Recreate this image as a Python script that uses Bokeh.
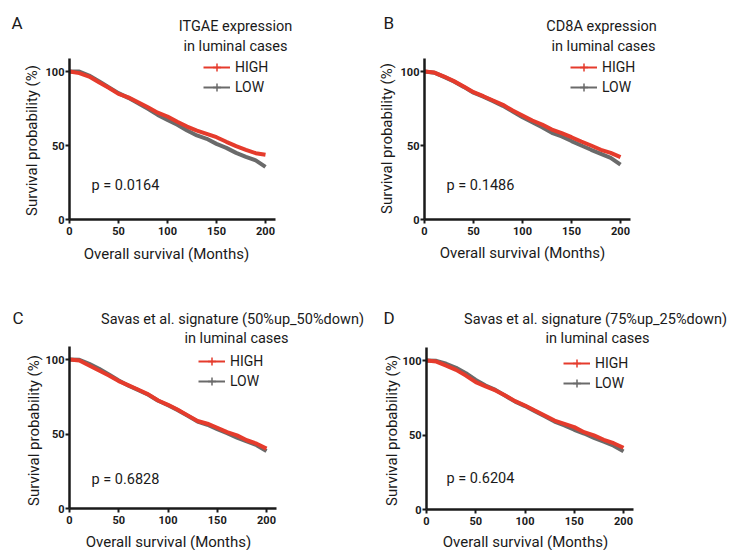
import numpy as np
from bokeh.plotting import figure
from bokeh.models import Range1d, FixedTicker, Label, Legend, LegendItem, ColumnDataSource
from bokeh.layouts import row, column
from bokeh.embed import file_html
from bokeh.resources import INLINE

# ---------------- data ----------------
months = [0, 10, 20, 30, 40, 50, 60, 70, 80, 90, 100,
          110, 120, 130, 140, 150, 160, 170, 180, 190, 200]
x_ticks = [0, 50, 100, 150, 200]
y_ticks = [0, 50, 100]
group_labels = ["HIGH", "LOW"]

a_high = [100, 98.9, 96.6, 92.8, 89.0, 84.9, 82.5, 79.2, 75.8, 72.2, 69.6,
          66.0, 62.8, 60.1, 57.9, 55.6, 52.5, 49.6, 47.1, 44.8, 43.7]
a_low = [100, 100, 97.3, 93.5, 89.4, 85.4, 82.2, 78.6, 74.8, 70.7, 67.3,
         64.0, 60.1, 56.8, 54.5, 51.1, 48.4, 45.0, 42.3, 40.0, 35.5]
b_high = [100, 99.3, 96.6, 93.5, 89.9, 86.0, 83.3, 80.4, 77.5, 73.6, 70.3,
          66.9, 64.2, 60.8, 58.3, 55.6, 52.7, 50.0, 47.1, 45.0, 42.1]
b_low = [100, 99.2, 96.4, 93.2, 89.6, 85.7, 83.0, 80.0, 76.8, 73.0, 69.1,
         65.8, 62.4, 58.6, 56.1, 53.0, 50.0, 47.1, 44.4, 41.7, 37.0]
c_high = [100, 99.3, 96.0, 92.6, 89.3, 85.5, 82.6, 79.7, 76.6, 72.5, 69.6,
          66.3, 62.5, 58.7, 56.9, 54.2, 51.3, 49.1, 45.8, 43.5, 40.2]
c_low = [100, 99.8, 97.1, 93.8, 90.0, 85.9, 82.4, 79.4, 76.3, 72.3, 69.3,
         66.0, 62.2, 58.4, 56.2, 53.2, 50.5, 47.6, 45.0, 42.5, 38.5]
d_high = [100, 99.3, 96.6, 93.7, 89.9, 85.5, 82.6, 79.9, 76.5, 72.7, 69.8,
          66.4, 63.1, 59.7, 57.5, 55.3, 51.9, 49.7, 46.8, 44.5, 41.4]
d_low = [100, 99.8, 97.8, 95.1, 91.5, 87.0, 83.2, 80.3, 76.3, 72.4, 69.4,
         66.0, 62.6, 59.0, 56.5, 53.5, 51.0, 48.1, 45.5, 42.8, 39.0]

letters = ["A", "B", "C", "D"]
titles = [("ITGAE expression", "in luminal cases"),
          ("CD8A expression", "in luminal cases"),
          ("Savas et al. signature (50%up_50%down)", "in luminal cases"),
          ("Savas et al. signature (75%up_25%down)", "in luminal cases")]
p_values = ["p = 0.0164", "p = 0.1486", "p = 0.6828", "p = 0.6204"]
x_title = "Overall survival (Months)"
y_title = "Survival probability (%)"

# ---------------- style / geometry ----------------
FONT = "Roboto"
RED = "#E53B2C"
GREY = "#6A6A6A"
INK = "#1A1A1A"
X_BOUNDS = (0, 210)
Y_BOUNDS = (0, 109)


def add_text(p, x, y, text, size, align="left", angle=0.0):
    p.add_layout(Label(x=x, y=y, x_units="screen", y_units="screen", text=text,
                       text_font=FONT, text_font_size=size, text_color=INK,
                       text_align=align, text_baseline="middle", angle=angle))


def panel(idx, high, low, geom, layout_pos):
    w, h, ox, oy, sx, sy = geom
    (letter_xy, t1_xy, t2_xy, legend_xy, p_xy, xt_xy, yt_xy) = layout_pos
    # frame covers the whole figure; data origin sits at pixel (ox, oy) from top-left
    xr = Range1d(-ox / sx, (w - ox) / sx)
    yr = Range1d(-(h - oy) / sy, oy / sy)
    p = figure(width=w, height=h, x_range=xr, y_range=yr, output_backend="svg",
               toolbar_location=None, min_border_left=0, min_border_right=0,
               min_border_top=0, min_border_bottom=0)
    p.grid.visible = False
    p.outline_line_color = None
    for ax in (p.xaxis[0], p.yaxis[0]):
        ax.fixed_location = 0
        ax.axis_line_width = 2.5
        ax.axis_line_color = INK
        ax.major_tick_line_width = 2
        ax.major_tick_line_color = INK
        ax.major_tick_out = 4
        ax.major_tick_in = 0
        ax.minor_tick_line_color = None
        ax.major_label_text_font = FONT
        ax.major_label_text_font_style = "bold"
        ax.major_label_text_font_size = "11px"
        ax.major_label_text_color = INK
    p.xaxis.bounds = X_BOUNDS
    p.yaxis.bounds = Y_BOUNDS
    p.xaxis.ticker = FixedTicker(ticks=x_ticks)
    p.yaxis.ticker = FixedTicker(ticks=y_ticks)
    p.xaxis.major_label_standoff = 3
    p.yaxis.major_label_standoff = 1

    src = ColumnDataSource(dict(m=months, high=high, low=low))
    p.line("m", "low", source=src, line_color=GREY, line_width=4)
    p.line("m", "high", source=src, line_color=RED, line_width=4)

    # legend-only renderers (thin line + censor tick)
    lh = p.line("m", "high", source=src, line_color=RED, line_width=2, visible=False)
    th = p.scatter("m", "high", source=src, marker="cross", size=8,
                   line_color=RED, line_width=1.5, visible=False)
    ll = p.line("m", "low", source=src, line_color=GREY, line_width=2, visible=False)
    tl = p.scatter("m", "low", source=src, marker="cross", size=8,
                   line_color=GREY, line_width=1.5, visible=False)
    leg = Legend(items=[LegendItem(label=group_labels[0], renderers=[lh, th]),
                        LegendItem(label=group_labels[1], renderers=[ll, tl])],
                 location=legend_xy, orientation="vertical", glyph_width=27,
                 glyph_height=20, label_height=20, spacing=0, padding=0,
                 margin=0, label_standoff=5, border_line_color=None,
                 background_fill_alpha=0, label_text_font=FONT,
                 label_text_font_size="14px", label_text_color=INK)
    p.add_layout(leg)

    add_text(p, letter_xy[0], letter_xy[1], letters[idx], "17px")
    add_text(p, t1_xy[0], t1_xy[1], titles[idx][0], "14.5px", align="center")
    add_text(p, t2_xy[0], t2_xy[1], titles[idx][1], "14.5px", align="center")
    add_text(p, p_xy[0], p_xy[1], p_values[idx], "14.5px")
    add_text(p, xt_xy[0], xt_xy[1], x_title, "15px", align="center")
    add_text(p, yt_xy[0], yt_xy[1], y_title, "15px", align="center", angle=np.pi / 2)
    return p


# geometry: (width, height, origin_x, origin_y, px per month, px per percent)
geo_a = (374, 283, 69, 219, 0.98, 1.48)
geo_b = (358, 283, 50, 219, 0.98, 1.48)
geo_c = (374, 267, 69, 225, 0.985, 1.49)
geo_d = (358, 267, 52, 226, 0.985, 1.49)

# text/legend anchors (text centres) in pixels from each panel's bottom-left corner
pos_a = ((11, 261), (235, 257), (235, 237), (203, 186), (91, 98), (166, 30), (31, 143))
pos_b = ((9, 261), (227, 257), (229, 237), (196, 186), (72, 98), (148, 31), (12, 145))
pos_c = ((12, 233), (232, 231), (236, 212), (198, 159), (91, 71), (168, 9), (33, 120))
pos_d = ((9, 233), (221, 231), (223, 212), (189, 157), (72, 72), (151, 9), (17, 120))

pa = panel(0, a_high, a_low, geo_a, pos_a)
pb = panel(1, b_high, b_low, geo_b, pos_b)
pc = panel(2, c_high, c_low, geo_c, pos_c)
pd = panel(3, d_high, d_low, geo_d, pos_d)

layout = column(row(pa, pb), row(pc, pd))
open("out.html", "w").write(file_html(layout, INLINE))
